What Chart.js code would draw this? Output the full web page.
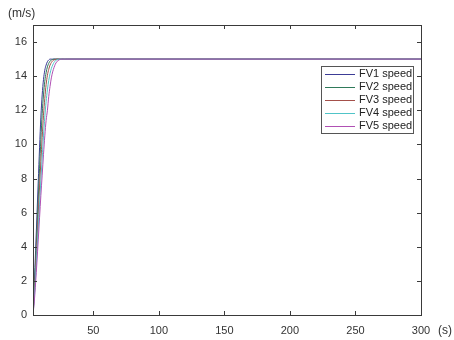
<!DOCTYPE html>
<html><head><meta charset="utf-8">
<script src="https://cdn.jsdelivr.net/npm/chart.js@4.4.0/dist/chart.umd.min.js"></script>
<style>html,body{margin:0;padding:0;background:#fff}#wrap{width:454px;height:340px;position:relative}</style>
</head><body><div id="wrap"><canvas id="c" width="454" height="340"></canvas></div>
<script>
const times = [4,5,6,7,8,9,10,11,12,13,14,15,16,17,18,19,20,21,22,23,24,25,26,27,28,29,30,300];
const fv1 = [0,1.8,3.8,5.8,7.8,9.8,11.6,12.9,13.8,14.35,14.65,14.85,14.95,15,15,15,15,15,15,15,15,15,15,15,15,15,15,15];
const fv2 = [0,1.5,3.2,5.0,6.8,8.6,10.3,11.8,12.9,13.7,14.2,14.55,14.75,14.88,14.95,14.98,15,15,15,15,15,15,15,15,15,15,15,15];
const fv3 = [0,1.2,2.7,4.3,5.9,7.5,9.0,10.4,11.7,12.7,13.5,14.05,14.4,14.65,14.8,14.9,14.95,14.98,15,15,15,15,15,15,15,15,15,15];
const fv4 = [0,1.0,2.3,3.7,5.1,6.5,7.9,9.2,10.5,11.6,12.5,13.2,13.75,14.15,14.45,14.65,14.8,14.9,14.95,14.98,15,15,15,15,15,15,15,15];
const fv5 = [0,0.8,1.9,3.1,4.4,5.7,7.0,8.2,9.4,10.5,11.4,12.0,12.8,13.4,13.9,14.25,14.5,14.7,14.83,14.91,14.96,14.99,15,15,15,15,15,15];
const seriesNames = ['FV1 speed','FV2 speed','FV3 speed','FV4 speed','FV5 speed'];
const seriesColors = ['#3c3c96','#2f7a5a','#a4504a','#50c4c8','#b050b4'];
const xTicks = [50,100,150,200,250,300];
const yTicks = [0,2,4,6,8,10,12,14,16];
const allSeries = [fv1,fv2,fv3,fv4,fv5];

const datasets = allSeries.map((s,i)=>({
  label: seriesNames[i],
  data: times.map((t,j)=>({x:t,y:s[j]})),
  borderColor: seriesColors[i],
  borderWidth: 1,
  pointRadius: 0,
  cubicInterpolationMode: 'monotone',
  order: allSeries.length - i,
  fill: false
}));

const FONT = '11px "Liberation Sans", Arial, sans-serif';
const decor = {
  id:'decor',
  afterDraw(chart){
    const {ctx, chartArea:a, scales:{x,y}} = chart;
    ctx.save();
    ctx.strokeStyle = '#3a3a3a';
    ctx.lineWidth = 1;
    ctx.strokeRect(Math.round(a.left)+0.5, Math.round(a.top)+0.5, Math.round(a.right-a.left), Math.round(a.bottom-a.top));
    ctx.beginPath();
    xTicks.forEach(v=>{const px=Math.round(x.getPixelForValue(v))+0.5;
      ctx.moveTo(px,a.bottom); ctx.lineTo(px,a.bottom-4);
      ctx.moveTo(px,a.top); ctx.lineTo(px,a.top+4);});
    yTicks.forEach(v=>{const py=Math.round(y.getPixelForValue(v))+0.5;
      ctx.moveTo(a.left,py); ctx.lineTo(a.left+4,py);
      ctx.moveTo(a.right,py); ctx.lineTo(a.right-4,py);});
    ctx.stroke();
    ctx.fillStyle = '#333';
    ctx.font = '12px "Liberation Sans", Arial, sans-serif';
    ctx.textBaseline = 'middle';
    ctx.textAlign = 'left';
    ctx.fillText('(m/s)', 8, 14);
    ctx.fillText('(s)', 438, 331);
    const lx=321, ly=66, lw=92, lh=67;
    ctx.fillStyle='#fff';
    ctx.fillRect(lx,ly,lw,lh);
    ctx.strokeStyle='#555';
    ctx.strokeRect(lx+0.5,ly+0.5,lw,lh);
    ctx.font = FONT;
    seriesNames.forEach((n,i)=>{
      const yy = 73.5 + i*13.2;
      ctx.strokeStyle = seriesColors[i];
      ctx.beginPath(); ctx.moveTo(325,Math.round(yy)+0.5); ctx.lineTo(355,Math.round(yy)+0.5); ctx.stroke();
      ctx.fillStyle='#222';
      ctx.fillText(n, 359, yy);
    });
    ctx.restore();
  }
};

new Chart(document.getElementById('c'), {
  type:'line',
  data:{datasets},
  options:{
    responsive:false, animation:false,
    layout:{padding:{top:25,right:33,left:0,bottom:0}},
    plugins:{legend:{display:false},tooltip:{enabled:false}},
    scales:{
      x:{type:'linear',min:4,max:300,
        afterBuildTicks(s){s.ticks = xTicks.map(v=>({value:v}));},
        afterFit(s){s.height=25;},
        grid:{display:false,drawTicks:false},border:{display:false},
        ticks:{color:'#333',font:{family:'"Liberation Sans", Arial, sans-serif',size:11},padding:9,maxRotation:0,autoSkip:false}},
      y:{type:'linear',min:0,max:17,
        afterBuildTicks(s){s.ticks = yTicks.map(v=>({value:v}));},
        afterFit(s){s.width=33;},
        grid:{display:false,drawTicks:false},border:{display:false},
        ticks:{color:'#333',font:{family:'"Liberation Sans", Arial, sans-serif',size:11},padding:6}}
    }
  },
  plugins:[decor]
});
</script></body></html>
